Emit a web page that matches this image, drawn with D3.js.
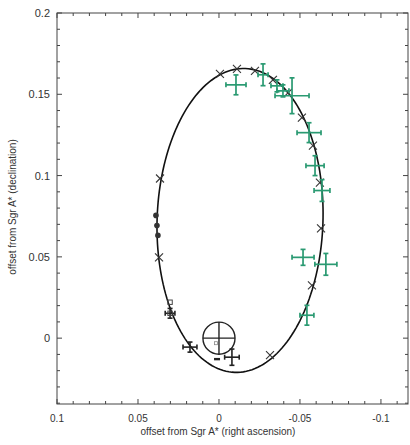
<!DOCTYPE html>
<html><head><meta charset="utf-8">
<script src="https://cdn.jsdelivr.net/npm/d3@7"></script>
<style>
body{margin:0;background:#fff}
text{font-family:"Liberation Sans",Arial,Helvetica,sans-serif;fill:#333}
</style>
</head><body><svg id="c" width="410" height="445"></svg>
<script>
// ---- data (arcseconds offsets from Sgr A*) ----
const xTickValues = [0.1, 0.05, 0, -0.05, -0.1];
const xTickLabels = ["0.1", "0.05", "0", "-0.05", "-0.1"];
const yTickValues = [0, 0.05, 0.1, 0.15, 0.2];
const yTickLabels = ["0", "0.05", "0.1", "0.15", "0.2"];

// model positions along the orbit (x markers)
const modelRA  = [0.0364, 0.0370, -0.0006, -0.0111, -0.0222, -0.0333, -0.0426, -0.0512, -0.0580, -0.0623, -0.0630, -0.0574, -0.0315];
const modelDec = [0.0982, 0.0497, 0.1626, 0.1656, 0.1644, 0.1589, 0.1509, 0.1356, 0.1184, 0.0957, 0.0675, 0.0325, -0.0104];

// green measurements with errors
const greenRA   = [-0.0105, -0.0272, -0.0358, -0.0395, -0.0451, -0.0556, -0.0593, -0.0636, -0.0519, -0.0660, -0.0543];
const greenDec  = [0.1558, 0.1620, 0.1552, 0.1521, 0.1491, 0.1264, 0.1061, 0.0908, 0.0497, 0.0454, 0.0141];
const greenErrRA  = [0.0062, 0.0031, 0.0037, 0.0037, 0.0105, 0.0074, 0.0056, 0.0049, 0.0068, 0.0068, 0.0043];
const greenErrDec = [0.0061, 0.0067, 0.0037, 0.0037, 0.0110, 0.0061, 0.0061, 0.0067, 0.0049, 0.0067, 0.0061];

// black measurements with errors
const blackRA   = [0.0302, 0.0179, -0.0080];
const blackDec  = [0.0153, -0.0055, -0.0117];
const blackErrRA  = [0.0030, 0.0043, 0.0045];
const blackErrDec = [0.0030, 0.0031, 0.0050];

// filled dots
const dotRA  = [0.0389, 0.0383, 0.0377];
const dotDec = [0.0755, 0.0693, 0.0632];

// small open squares
const squareRA  = [0.0302, 0.0302];
const squareDec = [0.0221, 0.0153];

// faint point inside the Sgr A* circle, and dark dash below it
const innerRA = [0.0019], innerDec = [-0.0031];
const dashRA = [0.0012], dashDec = [-0.0129];

// orbit ellipse parameters
const orbitCenter = [-0.0130, 0.0724];
const orbitSemiAxes = [0.0512, 0.0935]; // [minor (RA), major (Dec)]
const orbitTiltDeg = 2;

// Sgr A* position and error circle radius
const sgrPos = [0, 0];
const sgrRadius = 0.0099;

// ---- chart ----
const svg = d3.select("#c");
const L = 57, R = 408, T = 13, B = 404;
const x = d3.scaleLinear().domain([0.1, -0.1167]).range([L, R]);
const y = d3.scaleLinear().domain([-0.0405, 0.2]).range([B, T]);
const green = "#2a9a72";
const dark = "#222";

// frame
svg.append("rect").attr("x", L).attr("y", T).attr("width", R - L).attr("height", B - T)
  .attr("fill", "none").attr("stroke", "#444").attr("stroke-width", 1);

// ticks
const minorX = d3.range(-11, 11).map(i => i * 0.01).filter(v => v <= 0.1 && v >= -0.1167);
const minorY = d3.range(-4, 21).map(i => i * 0.01);
const isMajor = v => Math.abs(Math.round(v * 20) - v * 20) < 1e-6;
const tk = svg.append("g").attr("stroke", "#444").attr("stroke-width", 1);
minorX.forEach(v => {
  const len = isMajor(v) ? 5 : 3;
  tk.append("line").attr("x1", x(v)).attr("x2", x(v)).attr("y1", B).attr("y2", B - len);
  tk.append("line").attr("x1", x(v)).attr("x2", x(v)).attr("y1", T).attr("y2", T + len);
});
minorY.forEach(v => {
  const len = isMajor(v) ? 5 : 3;
  tk.append("line").attr("y1", y(v)).attr("y2", y(v)).attr("x1", L).attr("x2", L + len);
  tk.append("line").attr("y1", y(v)).attr("y2", y(v)).attr("x1", R).attr("x2", R - len);
});

// tick labels
svg.selectAll(".xl").data(xTickValues).enter().append("text")
  .attr("x", d => x(d)).attr("y", 422).attr("text-anchor", "middle")
  .attr("font-size", 10).text((d, i) => xTickLabels[i]);
svg.selectAll(".yl").data(yTickValues).enter().append("text")
  .attr("x", 50).attr("y", d => y(d) + 4).attr("text-anchor", "end")
  .attr("font-size", 11).text((d, i) => yTickLabels[i]);

// axis titles
svg.append("text").attr("x", 218).attr("y", 435).attr("text-anchor", "middle")
  .attr("font-size", 10).text("offset from Sgr A* (right ascension)");
svg.append("text").attr("transform", "translate(16,207) rotate(-90)").attr("text-anchor", "middle")
  .attr("font-size", 10).text("offset from Sgr A* (declination)");

// orbit
const th = orbitTiltDeg * Math.PI / 180;
const ts = d3.range(0, 361, 2).map(d => d * Math.PI / 180);
const orbitPts = ts.map(t => {
  const u = orbitSemiAxes[0] * Math.cos(t), v = orbitSemiAxes[1] * Math.sin(t);
  return [orbitCenter[0] + u * Math.cos(th) - v * Math.sin(th),
          orbitCenter[1] + u * Math.sin(th) + v * Math.cos(th)];
});
svg.append("path").attr("d", d3.line().x(d => x(d[0])).y(d => y(d[1])).curve(d3.curveLinearClosed)(orbitPts))
  .attr("fill", "none").attr("stroke", "#111").attr("stroke-width", 1.6);

// Sgr A* circle + cross
const sr = x(0) - x(sgrRadius);
const sg = svg.append("g").attr("stroke", "#222").attr("stroke-width", 1.4).attr("fill", "none");
sg.append("circle").attr("cx", x(sgrPos[0])).attr("cy", y(sgrPos[1])).attr("r", sr);
sg.append("line").attr("x1", x(sgrPos[0]) - sr).attr("x2", x(sgrPos[0]) + sr).attr("y1", y(sgrPos[1])).attr("y2", y(sgrPos[1]));
sg.append("line").attr("x1", x(sgrPos[0])).attr("x2", x(sgrPos[0])).attr("y1", y(sgrPos[1]) - sr).attr("y2", y(sgrPos[1]) + sr);

// model x markers
const xm = svg.append("g").attr("stroke", "#333").attr("stroke-width", 1.1);
modelRA.forEach((v, i) => {
  const cx = x(v), cy = y(modelDec[i]), s = 4;
  xm.append("line").attr("x1", cx - s).attr("x2", cx + s).attr("y1", cy - s).attr("y2", cy + s);
  xm.append("line").attr("x1", cx - s).attr("x2", cx + s).attr("y1", cy + s).attr("y2", cy - s);
});

// error crosses
function crosses(ra, dec, era, edec, color, sw) {
  const g = svg.append("g").attr("stroke", color).attr("stroke-width", sw).attr("fill", "none");
  ra.forEach((v, i) => {
    const cx = x(v), cy = y(dec[i]);
    const x0 = x(v + era[i]), x1 = x(v - era[i]);
    const y0 = y(dec[i] + edec[i]), y1 = y(dec[i] - edec[i]);
    const c = 2.5;
    g.append("line").attr("x1", x0).attr("x2", x1).attr("y1", cy).attr("y2", cy);
    g.append("line").attr("x1", cx).attr("x2", cx).attr("y1", y0).attr("y2", y1);
    g.append("line").attr("x1", x0).attr("x2", x0).attr("y1", cy - c).attr("y2", cy + c);
    g.append("line").attr("x1", x1).attr("x2", x1).attr("y1", cy - c).attr("y2", cy + c);
    g.append("line").attr("x1", cx - c).attr("x2", cx + c).attr("y1", y0).attr("y2", y0);
    g.append("line").attr("x1", cx - c).attr("x2", cx + c).attr("y1", y1).attr("y2", y1);
  });
}
crosses(greenRA, greenDec, greenErrRA, greenErrDec, green, 1.7);
crosses(blackRA, blackDec, blackErrRA, blackErrDec, dark, 1.6);

// filled dots
svg.append("g").selectAll("circle").data(dotRA).enter().append("circle")
  .attr("cx", d => x(d)).attr("cy", (d, i) => y(dotDec[i])).attr("r", 2.8).attr("fill", "#333");

// small squares
svg.append("g").selectAll("rect").data(squareRA).enter().append("rect")
  .attr("x", d => x(d) - 2.2).attr("y", (d, i) => y(squareDec[i]) - 2.2)
  .attr("width", 4.4).attr("height", 4.4).attr("fill", "none").attr("stroke", "#444").attr("stroke-width", 1);

// faint inner point
svg.append("g").selectAll("rect").data(innerRA).enter().append("rect")
  .attr("x", d => x(d) - 1.5).attr("y", (d, i) => y(innerDec[i]) - 1.5)
  .attr("width", 3).attr("height", 3).attr("fill", "none").attr("stroke", "#888").attr("stroke-width", 0.8);

// dark dash
svg.append("g").selectAll("rect").data(dashRA).enter().append("rect")
  .attr("x", d => x(d) - 3).attr("y", (d, i) => y(dashDec[i]) - 1.2)
  .attr("width", 6).attr("height", 2.4).attr("fill", "#222");
</script></body></html>
